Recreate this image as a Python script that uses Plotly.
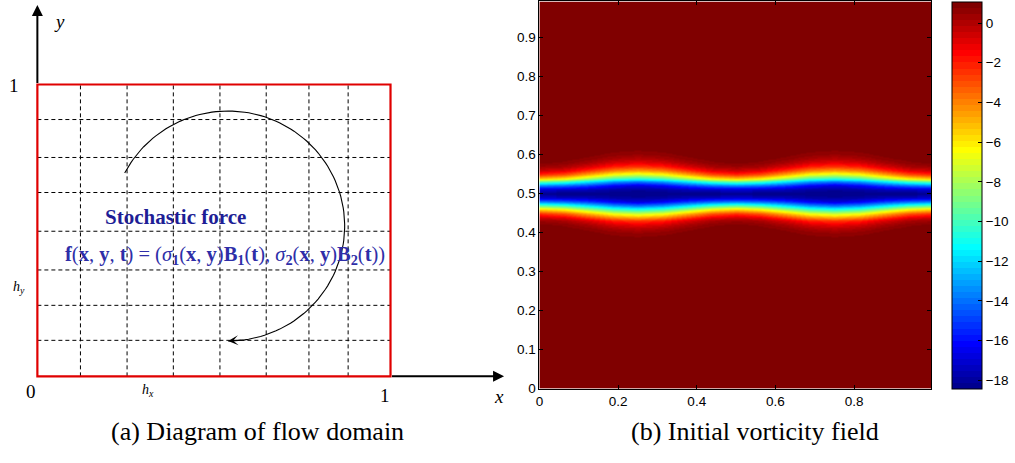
import math
import plotly.graph_objects as go

# ---------------- Right panel: initial vorticity field ----------------
# grid columns (x) and rows (y) at which the field was read
x_cols = [0.0, 0.0625, 0.125, 0.1875, 0.25, 0.3125, 0.375, 0.4375, 0.5,
          0.5625, 0.625, 0.6875, 0.75, 0.8125, 0.875, 0.9375, 1.0]
y_rows = [0.0, 0.36, 0.37, 0.38, 0.39, 0.40, 0.41, 0.42, 0.43, 0.44, 0.45,
          0.46, 0.47, 0.48, 0.49, 0.50, 0.51, 0.52, 0.53, 0.54, 0.55, 0.56,
          0.57, 0.58, 0.59, 0.60, 0.61, 0.62, 0.63, 0.64, 1.0]
# vertical profile of vorticity vs distance |y-0.5| = 0, 0.01, ..., 0.14
vort_narrow = [-18.45, -17.14, -13.73, -9.40, -5.39, -2.40, -0.56, 0.39, 0.82, 0.98, 1.03, 1.05, 1.05, 1.05, 1.05]
vort_a      = [-18.45, -17.28, -14.20, -10.16, -6.22, -3.14, -1.08, 0.10, 0.67, 0.92, 1.01, 1.05, 1.05, 1.05, 1.05]
vort_mid    = [-18.45, -17.55, -15.10, -11.70, -8.11, -4.94, -2.50, -0.87, 0.10, 0.63, 0.88, 0.99, 1.03, 1.05, 1.05]
vort_b      = [-18.45, -17.90, -16.30, -13.30, -9.90, -6.70, -4.05, -2.10, -0.75, 0.10, 0.58, 0.84, 0.96, 1.02, 1.05]
vort_wide   = [-18.45, -18.10, -16.90, -14.00, -10.60, -7.40, -4.70, -2.60, -1.15, -0.20, 0.40, 0.73, 0.90, 0.99, 1.03]
vort_background = 1.05
# which profile applies at each x column
col_type = [0, 1, 2, 3, 4, 3, 2, 1, 0, 1, 2, 3, 4, 3, 2, 1, 0]
z_min, z_max = -18.45, 1.05
cbar_ticks = [0, -2, -4, -6, -8, -10, -12, -14, -16, -18]
x_ticks = [0, 0.2, 0.4, 0.6, 0.8]
y_ticks = [0, 0.1, 0.2, 0.3, 0.4, 0.5, 0.6, 0.7, 0.8, 0.9]

# ---------------- Left panel: diagram ----------------
grid_x = [0.122, 0.254, 0.385, 0.517, 0.648, 0.769, 0.880]
grid_y = [0.1235, 0.2434, 0.3646, 0.4973, 0.630, 0.750, 0.880]
arc_center = (0.5402, 0.5152)
arc_radius = (0.330, 0.394)
arc_angles = (152.6, -90.0)

profiles = [vort_narrow, vort_a, vort_mid, vort_b, vort_wide]
z = []
for yv in y_rows:
    k = int(round(abs(yv - 0.5) / 0.01))
    row = []
    for t in col_type:
        p = profiles[t]
        row.append(p[k] if k < len(p) else vort_background)
    z.append(row)


def jet64():
    def u(i):
        if i <= 16:
            return i / 16
        if i <= 31:
            return 1.0
        return (48 - i) / 16
    cols = []
    for k in range(1, 65):
        b = u(k + 8) if k + 8 <= 47 else 0.0
        g = u(k - 8) if 1 <= k - 8 <= 47 else 0.0
        r = u(k - 24) if 1 <= k - 24 <= 47 else 0.0
        cols.append("rgb(%d,%d,%d)" % (round(r * 255), round(g * 255), round(b * 255)))
    scale = []
    for k, c in enumerate(cols):
        scale.append([k / 64, c])
        scale.append([(k + 1) / 64, c])
    return scale


t0, t1 = arc_angles
n = 120
arc_x, arc_y = [], []
for i in range(n + 1):
    a = math.radians(t0 + (t1 - t0) * i / n)
    arc_x.append(arc_center[0] + arc_radius[0] * math.cos(a))
    arc_y.append(arc_center[1] + arc_radius[1] * math.sin(a))

tick_font = dict(family="Liberation Sans, Arial, sans-serif", size=13.5, color="black")
serif = "Liberation Serif, Times New Roman, serif"

fig = go.Figure()
fig.add_trace(go.Heatmap(
    x=x_cols, y=y_rows, z=z, zsmooth="best", colorscale=jet64(),
    zmin=z_min, zmax=z_max, xaxis="x", yaxis="y", hoverinfo="skip",
    colorbar=dict(
        x=0.9379, xanchor="left", y=0.1447, yanchor="bottom",
        len=0.851, lenmode="fraction", thickness=30, thicknessmode="pixels",
        xpad=0, ypad=0, outlinewidth=1, outlinecolor="black",
        tickvals=cbar_ticks, ticks="inside", ticklen=4, tickcolor="black",
        tickfont=tick_font,
    ),
))
fig.add_trace(go.Scatter(
    x=arc_x, y=arc_y, mode="lines", line=dict(color="black", width=1.1),
    xaxis="x2", yaxis="y2", hoverinfo="skip", showlegend=False,
))

shapes = []
for gx in grid_x:
    shapes.append(dict(type="line", xref="x2", yref="y2", x0=gx, x1=gx, y0=0, y1=1,
                       line=dict(color="black", width=1, dash="4px,3px")))
for gy in grid_y:
    shapes.append(dict(type="line", xref="x2", yref="y2", x0=0, x1=1, y0=gy, y1=gy,
                       line=dict(color="black", width=1, dash="4px,3px")))
shapes.append(dict(type="rect", xref="x2", yref="y2", x0=0, x1=1, y0=0, y1=1,
                   line=dict(color="#e00000", width=2.2)))

ann = []
# axis arrows
ann.append(dict(xref="x2", yref="y2", axref="x2", ayref="y2", x=0, y=1.2727, ax=0, ay=1.0,
                text="", showarrow=True, arrowhead=2, arrowwidth=2, arrowsize=1.1, arrowcolor="black"))
ann.append(dict(xref="x2", yref="y2", axref="x2", ayref="y2", x=1.3216, y=0, ax=1.0, ay=0,
                text="", showarrow=True, arrowhead=2, arrowwidth=2, arrowsize=1.1, arrowcolor="black"))
# arc arrowhead
ann.append(dict(xref="x2", yref="y2", x=arc_center[0], y=arc_center[1] - arc_radius[1],
                ax=14, ay=-1, text="", showarrow=True, arrowhead=3, arrowwidth=1,
                arrowsize=1.7, arrowcolor="black"))


def txt(x, y, s, size, color="black", **kw):
    d = dict(xref="x2", yref="y2", x=x, y=y, text=s, showarrow=False,
             xanchor="center", yanchor="middle",
             font=dict(family=serif, size=size, color=color))
    d.update(kw)
    ann.append(d)


txt(0.0635, 1.2155, "<i>y</i>", 19)
txt(1.3075, -0.0673, "<i>x</i>", 19)
txt(-0.0663, 0.9966, "1", 19)
txt(-0.0183, -0.0505, "0", 19)
txt(0.983, -0.064, "1", 19)
txt(-0.052, 0.303, "<i>h</i><sub><i>y</i></sub>", 14)
txt(0.3145, -0.047, "<i>h</i><sub><i>x</i></sub>", 14)
txt(0.391, 0.545, "<b>Stochastic force</b>", 21, color="#1e1e96")
formula = ("<b>f</b>(<b>x</b>, <b>y</b>, <b>t</b>) = (<i>σ</i><sub><b>1</b></sub>(<b>x</b>, <b>y</b>)"
           "<b>B</b><sub><b>1</b></sub>(<b>t</b>), <i>σ</i><sub><b>2</b></sub>(<b>x</b>, <b>y</b>)"
           "<b>B</b><sub><b>2</b></sub>(<b>t</b>))")
txt(0.53, 0.414, formula, 20.5, color="#2e2ea8")

ann.append(dict(xref="paper", yref="paper", x=0.2507, y=0.0518, xanchor="center", yanchor="middle",
                text="(a) Diagram of flow domain",
                showarrow=False, font=dict(family=serif, size=26, color="black")))
ann.append(dict(xref="paper", yref="paper", x=0.743, y=0.0518, xanchor="center", yanchor="middle",
                text="(b) Initial vorticity field",
                showarrow=False, font=dict(family=serif, size=26, color="black")))

fig.update_layout(
    width=1015, height=463, margin=dict(l=0, r=0, t=0, b=0),
    paper_bgcolor="white", plot_bgcolor="white", showlegend=False,
    xaxis=dict(domain=[0.52956, 0.91695], range=[0, 0.99544], anchor="y",
               tickvals=x_ticks, ticks="inside", ticklen=4, tickcolor="black",
               showline=True, linecolor="black", linewidth=1, mirror="ticks",
               showgrid=False, zeroline=False, tickfont=tick_font),
    yaxis=dict(domain=[0.1458, 0.9968], range=[0, 0.9924], anchor="x",
               tickvals=y_ticks, ticks="inside", ticklen=4, tickcolor="black",
               showline=True, linecolor="black", linewidth=1, mirror="ticks",
               showgrid=False, zeroline=False, tickfont=tick_font),
    xaxis2=dict(domain=[0, 0.5025], range=[-0.0945, 1.3441], anchor="y2", visible=False),
    yaxis2=dict(domain=[0, 1], range=[-0.2694, 1.2896], anchor="x2", visible=False),
    shapes=shapes, annotations=ann,
)

fig.write_html("out.html", config={"displayModeBar": False},
               post_script="document.body.style.margin='0px';document.body.style.overflow='hidden';")
